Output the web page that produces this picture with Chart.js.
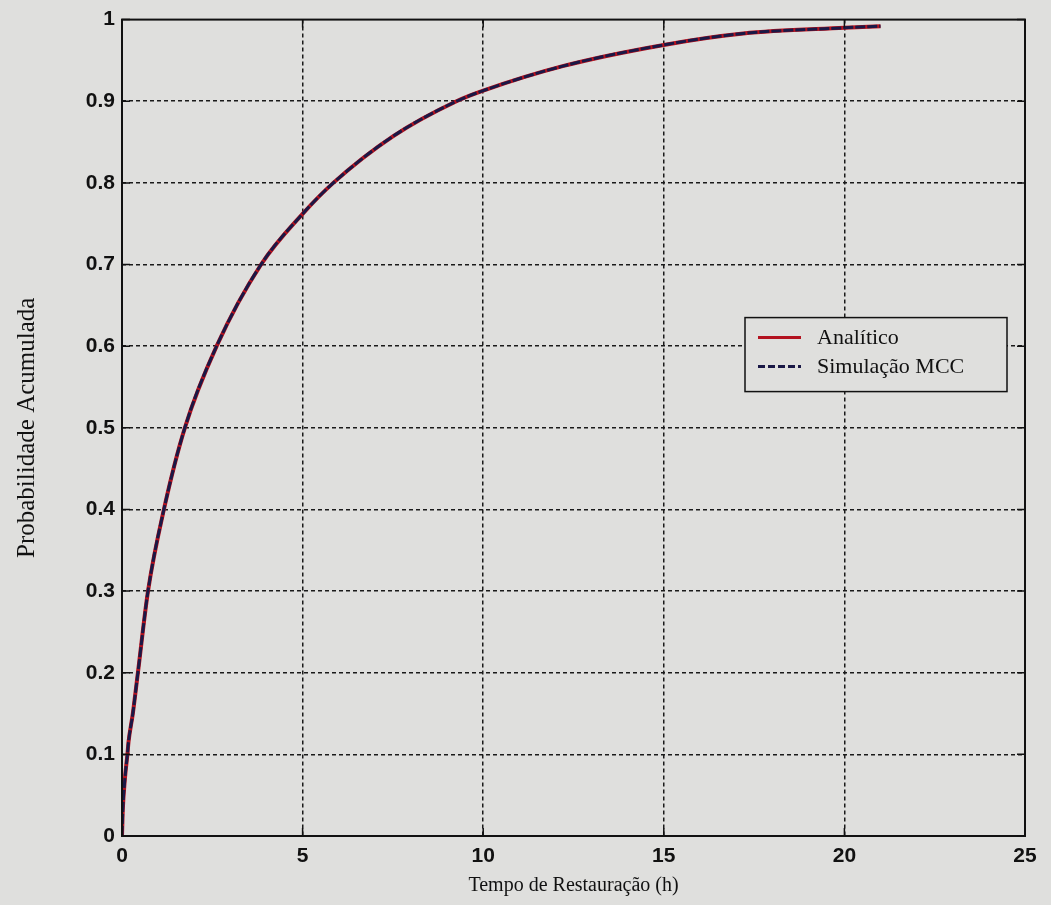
<!DOCTYPE html>
<html>
<head>
<meta charset="utf-8">
<script src="https://cdn.jsdelivr.net/npm/chart.js@4"></script>
<style>
  html, body { margin: 0; padding: 0; background: #dfdfdd; }
  canvas { display: block; }
</style>
</head>
<body>
<canvas id="cdfChart" width="1051" height="905"></canvas>
<script>
// Restoration time (h) and cumulative probability
const tempoAnalitico = [0, 0.02, 0.08, 0.15, 0.18, 0.3, 0.44, 0.72, 1.16, 1.74, 2.62, 3.85, 5, 5.85, 7.5, 9.26, 10, 12.2, 15, 17.2, 20, 21];
const probAnalitico  = [0, 0.03, 0.07, 0.1, 0.115, 0.15, 0.2, 0.3, 0.4, 0.5, 0.6, 0.7, 0.762, 0.8, 0.857, 0.9, 0.913, 0.943, 0.969, 0.983, 0.99, 0.992];

const tempoSimulacao = [0, 0.02, 0.08, 0.15, 0.18, 0.3, 0.44, 0.72, 1.16, 1.74, 2.62, 3.85, 5, 5.85, 7.5, 9.26, 10, 12.2, 15, 17.2, 20, 21];
const probSimulacao  = [0, 0.03, 0.07, 0.1, 0.115, 0.15, 0.2, 0.3, 0.4, 0.5, 0.6, 0.7, 0.762, 0.8, 0.857, 0.9, 0.913, 0.943, 0.969, 0.983, 0.99, 0.992];

const xTicks = [0, 5, 10, 15, 20, 25];
const yTicks = [0, 0.1, 0.2, 0.3, 0.4, 0.5, 0.6, 0.7, 0.8, 0.9, 1];

const BG = '#dfdfdd';
const INK = '#111111';

function toPoints(xs, ys) {
    return xs.map((x, i) => ({ x: x, y: ys[i] }));
}

// Box around the axes, inward ticks (MATLAB style) and the legend
const matlabFrame = {
    id: 'matlabFrame',
    afterDatasetsDraw(chart) {
        const { ctx, chartArea: a, scales } = chart;
        ctx.save();
        ctx.strokeStyle = INK;
        ctx.lineWidth = 2;
        ctx.setLineDash([]);
        ctx.strokeRect(a.left, a.top, a.right - a.left, a.bottom - a.top);

        ctx.lineWidth = 1.5;
        const len = 8;
        xTicks.forEach(v => {
            const px = scales.x.getPixelForValue(v);
            ctx.beginPath();
            ctx.moveTo(px, a.bottom); ctx.lineTo(px, a.bottom - len);
            ctx.moveTo(px, a.top); ctx.lineTo(px, a.top + len);
            ctx.stroke();
        });
        yTicks.forEach(v => {
            const py = scales.y.getPixelForValue(v);
            ctx.beginPath();
            ctx.moveTo(a.left, py); ctx.lineTo(a.left + len, py);
            ctx.moveTo(a.right, py); ctx.lineTo(a.right - len, py);
            ctx.stroke();
        });

        // legend
        const w = 262, h = 74;
        const lx = a.right - 18 - w;
        const ly = scales.y.getPixelForValue(0.635);
        ctx.fillStyle = BG;
        ctx.fillRect(lx, ly, w, h);
        ctx.lineWidth = 1.5;
        ctx.strokeStyle = INK;
        ctx.strokeRect(lx, ly, w, h);

        ctx.font = '22px "Liberation Serif", "Times New Roman", serif';
        ctx.textBaseline = 'middle';
        chart.data.datasets.forEach((ds, i) => {
            const cy = ly + 20 + i * 29;
            ctx.strokeStyle = ds.borderColor;
            ctx.lineWidth = 3;
            ctx.setLineDash(i === 1 ? [7, 3] : []);
            ctx.beginPath();
            ctx.moveTo(lx + 13, cy);
            ctx.lineTo(lx + 56, cy);
            ctx.stroke();
            ctx.setLineDash([]);
            ctx.fillStyle = INK;
            ctx.fillText(ds.label, lx + 72, cy + 1);
        });
        ctx.restore();
    }
};

const gridColor = (ctx, max) => {
    const v = ctx.tick ? ctx.tick.value : null;
    return (v === 0 || v === max) ? 'rgba(0,0,0,0)' : '#1a1a1a';
};

const tickFont = { family: '"Liberation Sans", Arial, sans-serif', size: 21, weight: 'bold' };

new Chart(document.getElementById('cdfChart'), {
    type: 'line',
    data: {
        datasets: [
            {
                label: 'Analítico',
                data: toPoints(tempoAnalitico, probAnalitico),
                borderColor: '#b3121f',
                borderWidth: 4,
                pointRadius: 0,
                cubicInterpolationMode: 'monotone',
                order: 2
            },
            {
                label: 'Simulação MCC',
                data: toPoints(tempoSimulacao, probSimulacao),
                borderColor: '#1a1846',
                borderWidth: 3,
                borderDash: [10, 2],
                pointRadius: 0,
                cubicInterpolationMode: 'monotone',
                order: 1
            }
        ]
    },
    options: {
        responsive: false,
        animation: false,
        layout: { padding: { left: 0, right: 26, top: 18, bottom: 0 } },
        plugins: {
            legend: { display: false },
            tooltip: { enabled: false }
        },
        scales: {
            x: {
                type: 'linear',
                min: 0,
                max: 25,
                afterBuildTicks: scale => { scale.ticks = xTicks.map(v => ({ value: v })); },
                afterFit: scale => { scale.height = 69; },
                border: { display: false, dash: [4, 3] },
                grid: {
                    color: ctx => gridColor(ctx, 25),
                    lineWidth: 1.5,
                    drawTicks: false
                },
                ticks: {
                    padding: 8,
                    maxRotation: 0,
                    color: INK,
                    font: tickFont,
                    callback: v => String(v)
                },
                title: {
                    display: true,
                    text: 'Tempo de Restauração (h)',
                    color: INK,
                    font: { family: '"Liberation Serif", "Times New Roman", serif', size: 20 },
                    padding: { top: 0, bottom: 7 }
                }
            },
            y: {
                type: 'linear',
                min: 0,
                max: 1,
                afterBuildTicks: scale => { scale.ticks = yTicks.map(v => ({ value: v })); },
                afterFit: scale => { scale.width = 122; },
                border: { display: false, dash: [4, 3] },
                grid: {
                    color: ctx => gridColor(ctx, 1),
                    lineWidth: 1.5,
                    drawTicks: false
                },
                ticks: {
                    padding: 7,
                    color: INK,
                    font: tickFont,
                    callback: v => String(Math.round(v * 10) / 10)
                },
                title: {
                    display: true,
                    text: 'Probabilidade Acumulada',
                    color: INK,
                    font: { family: '"Liberation Serif", "Times New Roman", serif', size: 25 },
                    padding: { top: 12, bottom: 0 }
                }
            }
        }
    },
    plugins: [matlabFrame]
});
</script>
</body>
</html>
